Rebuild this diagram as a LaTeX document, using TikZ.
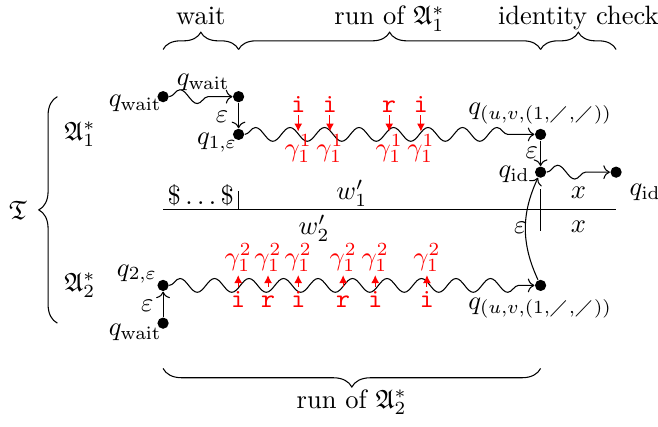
\documentclass[tikz,border=0pt]{standalone}
\usepackage{amsmath,amssymb}
\usepackage{tikz}
\usetikzlibrary{arrows.meta,decorations.pathmorphing,decorations.pathreplacing}

\begin{document}
\begin{tikzpicture}[x=0.5cm,y=0.5cm,
  state/.style={circle,fill,inner sep=1.5pt},
  wave/.style={->,decorate,decoration={snake,amplitude=2.6pt,segment length=13pt,post length=2mm}},
  brace/.style={decorate,decoration={brace,amplitude=#1}},
  brace/.default=7pt,
  sym/.style={red,font=\ttfamily,inner sep=1pt,text height=1.5ex,text depth=0pt,anchor=base},
  stk/.style={red,inner sep=1pt},
  push/.style={red,-{Latex[length=3pt,width=3pt]}}]
  \useasboundingbox (-4.32,-2.73) rectangle (13.11,8.56);
  % states
  \node[state] (w1) at (0,6) {};
  \node[state] (w1b) at (2,6) {};
  \node[state] (q1) at (2,5) {};
  \node[state] (f1) at (10,5) {};
  \node[state] (id) at (10,4) {};
  \node[state] (idx) at (12,4) {};
  \node[state] (f2) at (10,1) {};
  \node[state] (q2) at (0,1) {};
  \node[state] (w2) at (0,0) {};
  \draw[wave] (w1) -- (w1b);
  \draw[->] (w1b) -- (q1);
  \draw[wave] (q1) -- (f1);
  \draw[->] (f1) -- (id);
  \draw[wave] (id) -- (idx);
  \draw[->] (w2) -- (q2);
  \draw[wave] (q2) -- (f2);
  \draw[->] (f2) to[bend left=25] (id);
  % state labels
  \node (lw1) at (-0.74,5.83) {$q_{\mathrm{wait}}$};
  \node (lw1b) at (1.06,6.37) {$q_{\mathrm{wait}}$};
  \node (le1) at (1.56,5.46) {$\varepsilon$};
  \node (lq1) at (1.43,4.79) {$q_{1,\varepsilon}$};
  \node (lf1) at (9.99,5.56) {$q_{(u,v,(1,\diagup,\diagup))}$};
  \node (le2) at (9.77,4.5) {$\varepsilon$};
  \node (lid) at (9.3,3.93) {$q_{\mathrm{id}}$};
  \node (lidx) at (12.77,3.47) {$q_{\mathrm{id}}$};
  \node (le3) at (9.46,2.52) {$\varepsilon$};
  \node (lf2) at (9.99,0.4) {$q_{(u,v,(1,\diagup,\diagup))}$};
  \node (lq2) at (-0.69,1.3) {$q_{2,\varepsilon}$};
  \node (le4) at (-0.42,0.45) {$\varepsilon$};
  \node (lw2) at (-0.74,-0.24) {$q_{\mathrm{wait}}$};
  % stack symbols
  \foreach \x/\s [count=\k] in {3.58/i,4.42/i,5.99/r,6.83/i} {
    \node[sym] (s1\k) at (\x,5.59) {\s};
    \node[stk] (g1\k) at (\x,4.62) {$\gamma^1_1$};
    \draw[push] (s1\k.south) -- (g1\k.north);
  }
  \foreach \x/\s [count=\k] in {1.99/i,2.78/r,3.58/i,4.77/r,5.62/i,6.99/i} {
    \node[sym] (s2\k) at (\x,0.42) {\s};
    \node[stk] (g2\k) at (\x,1.73) {$\gamma^2_1$};
    \draw[push] (s2\k.north) -- (g2\k.south);
  }
  % tape
  \coordinate (t0) at (0,3);
  \coordinate (t1) at (12,3);
  \draw (t0) -- (t1);
  \draw (2,3) -- (2,3.5);
  \draw (10,3.55) -- (10,2.45);
  \node (ldol) at (1,3.4) {$\$\ldots\$$};
  \node (lw1p) at (5,3.44) {$w'_1$};
  \node (lw2p) at (4,2.52) {$w'_2$};
  \node (lx1) at (11,3.45) {$x$};
  \node (lx2) at (11,2.55) {$x$};
  % braces
  \draw[brace=6.5pt] (0,7.25) -- (2,7.25);
  \draw[brace=6.5pt] (2,7.25) -- (10,7.25);
  \draw[brace=6.5pt] (10,7.25) -- (12,7.25);
  \draw[brace] (10,-1.2) -- (0,-1.2);
  \draw[brace] (-2.8,0) -- (-2.8,6);
  \node[anchor=base] (lwait) at (1,7.9) {wait};
  \node[anchor=base] (lrun1) at (6,7.9) {run of $\mathfrak{A}^*_1$};
  \node[anchor=base] (lcheck) at (11,7.9) {identity check};
  \node[anchor=base] (lrun2) at (5,-2.25) {run of $\mathfrak{A}^*_2$};
  \node (lT) at (-3.84,3) {$\mathfrak{T}$};
  \node (lA1) at (-2.2,5) {$\mathfrak{A}^*_1$};
  \node (lA2) at (-2.2,1) {$\mathfrak{A}^*_2$};
\end{tikzpicture}
\end{document}
